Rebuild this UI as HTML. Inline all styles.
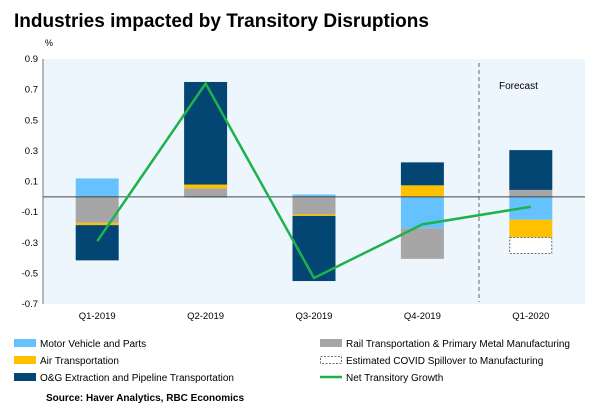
<!DOCTYPE html>
<html><head><meta charset="utf-8"><style>
body{margin:0;background:#fff;font-family:"Liberation Sans",sans-serif;}
svg text{font-family:"Liberation Sans",sans-serif;}
</style></head><body>
<svg width="600" height="411">
<text x="14" y="27" font-size="19" font-weight="bold" fill="#000">Industries impacted by Transitory Disruptions</text>
<text x="45" y="46" font-size="9">%</text>
<rect x="43" y="59" width="542" height="245" fill="#eef6fd"/>
<g id="yaxis"></g>
<g id="bars"></g>
<line x1="43" x2="43" y1="59" y2="304" stroke="#555" stroke-width="0.8"/>
<line id="zero" x1="43" x2="585" stroke="#444" stroke-width="1"/>
<line x1="479" x2="479" y1="63" y2="302" stroke="#666" stroke-dasharray="4,3"/>
<text x="499" y="89" font-size="10">Forecast</text>
<g id="line"></g>
<g id="xaxis"></g>
<g font-size="10">
<rect x="14" y="339" width="22" height="8" fill="#66c2ff"/><text x="40" y="347">Motor Vehicle and Parts</text>
<rect x="14" y="356" width="22" height="8" fill="#ffc000"/><text x="40" y="364">Air Transportation</text>
<rect x="14" y="373" width="22" height="8" fill="#034674"/><text x="40" y="381">O&amp;G Extraction and Pipeline Transportation</text>
<rect x="320" y="339" width="22" height="8" fill="#a6a6a6"/><text x="346" y="347">Rail Transportation &amp; Primary Metal Manufacturing</text>
<rect x="320.5" y="356.5" width="21" height="7" fill="#fff" stroke="#444" stroke-dasharray="2,1.5" stroke-width="0.8"/><text x="346" y="364">Estimated COVID Spillover to Manufacturing</text>
<line x1="320" x2="342" y1="377" y2="377" stroke="#1db24b" stroke-width="2.5"/><text x="346" y="381">Net Transitory Growth</text>
</g>
<text x="46" y="401" font-size="10" font-weight="bold">Source: Haver Analytics, RBC Economics</text>
</svg>
<script>
const categories=["Q1-2019","Q2-2019","Q3-2019","Q4-2019","Q1-2020"];
const motor=[0.12,-0.005,0.015,-0.205,-0.15];
const rail=[-0.17,0.055,-0.115,-0.2,0.045];
const air=[-0.015,0.025,-0.01,0.075,-0.115];
const og=[-0.23,0.67,-0.425,0.15,0.26];
const covid=[0,0,0,0,-0.105];
const net=[-0.29,0.74,-0.53,-0.18,-0.065];
const yTicks=["0.9","0.7","0.5","0.3","0.1","-0.1","-0.3","-0.5","-0.7"];
const NS="http://www.w3.org/2000/svg";
const X0=43,W=542,Y0=59,H=245,YMAX=0.9,YMIN=-0.7;
const y=v=>Y0+(YMAX-v)/(YMAX-YMIN)*H;
const step=W/categories.length;
const xc=i=>X0+step*(i+0.5);
function mk(t,a,p){const e=document.createElementNS(NS,t);for(const k in a)e.setAttribute(k,a[k]);p.appendChild(e);return e;}
document.getElementById('zero').setAttribute('y1',y(0));document.getElementById('zero').setAttribute('y2',y(0));
const ya=document.getElementById('yaxis');
yTicks.forEach(t=>{const tx=mk('text',{x:38,y:y(+t)+3,'font-size':9.5,'text-anchor':'end'},ya);tx.textContent=t;

});
const xa=document.getElementById('xaxis');
categories.forEach((c,i)=>{const tx=mk('text',{x:xc(i),y:y(YMIN)+15,'font-size':9.5,'text-anchor':'middle'},xa);tx.textContent=c;

});
const bg=document.getElementById('bars');
const series=[["motor",motor,"#66c2ff"],["rail",rail,"#a6a6a6"],["air",air,"#ffc000"],["og",og,"#034674"],["covid",covid,"covid"]];
const bw=43;
categories.forEach((c,i)=>{let pos=0,neg=0;
series.forEach(([n,arr,col])=>{const v=arr[i];if(!v)return;let a,b;
if(v>0){a=pos;b=pos+v;pos=b;}else{a=neg;b=neg+v;neg=b;}
const top=y(Math.max(a,b)),h=Math.abs(y(a)-y(b));
const attrs=col==="covid"?{x:xc(i)-bw/2+0.5,y:top,width:bw-1,height:h,fill:"#fff",stroke:"#444","stroke-dasharray":"2,1.5","stroke-width":0.8}:{x:xc(i)-bw/2,y:top,width:bw,height:h,fill:col};
const r=mk('rect',attrs,bg);

});});
const pl=mk('polyline',{points:net.map((v,i)=>xc(i)+','+y(v)).join(' '),fill:'none',stroke:'#1db24b','stroke-width':2.5},document.getElementById('line'));


</script>
</body></html>
